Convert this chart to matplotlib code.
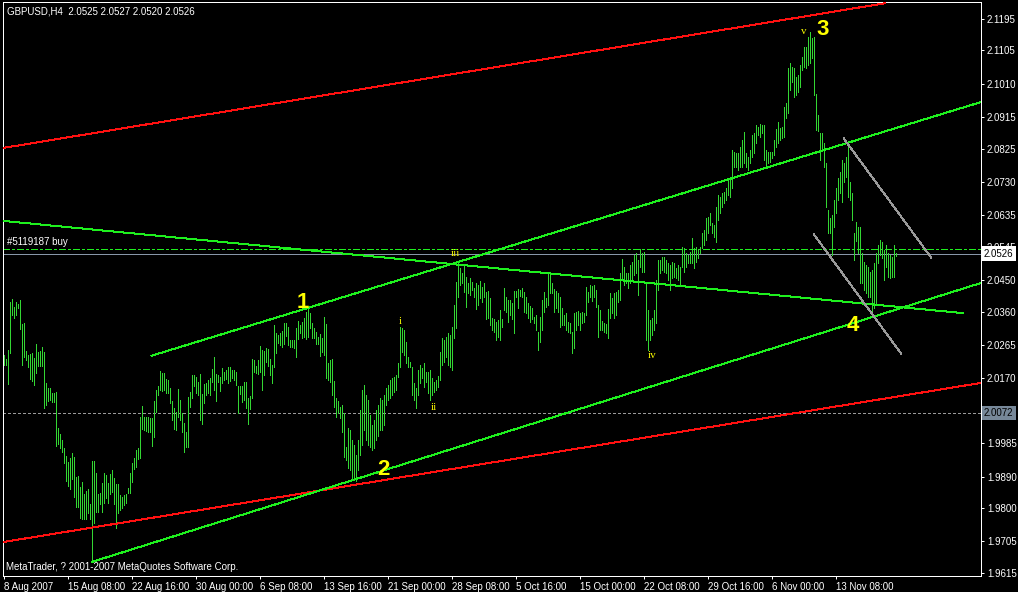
import numpy as np
import matplotlib
matplotlib.use("Agg")
import matplotlib.pyplot as plt
from matplotlib import font_manager
from matplotlib.transforms import blended_transform_factory

# ---------------------------------------------------------------- data
symbol_info = "GBPUSD,H4  2.0525 2.0527 2.0520 2.0526"
order_label = "#5119187 buy"
copyright_text = "MetaTrader, ? 2001-2007 MetaQuotes Software Corp."

# H4 bar highs / lows, one entry per bar starting 8 Aug 2007 00:00
highs = [
    2.0237, 2.0225, 2.0251, 2.0388, 2.0396, 2.0373, 2.0388, 2.0382, 2.0393, 2.0325,
    2.0328, 2.0248, 2.0237, 2.0239, 2.0242, 2.0228, 2.0268, 2.0245, 2.0248, 2.0259,
    2.0245, 2.0157, 2.0142, 2.0142, 2.0128, 2.0128, 2.0131, 2.0028, 2.0011, 1.9994,
    1.9971, 1.9949, 1.9931, 1.9943, 1.9957, 1.9946, 1.9889, 1.9891, 1.9860, 1.9874,
    1.9840, 1.9849, 1.9854, 1.9812, 1.9934, 1.9934, 1.9900, 1.9840, 1.9843, 1.9871,
    1.9900, 1.9894, 1.9871, 1.9897, 1.9909, 1.9886, 1.9869, 1.9869, 1.9837, 1.9832,
    1.9837, 1.9840, 1.9857, 1.9900, 1.9929, 1.9943, 1.9966, 1.9971, 2.0060, 2.0091,
    2.0060, 2.0060, 2.0060, 2.0057, 2.0057, 2.0105, 2.0137, 2.0148, 2.0191, 2.0185,
    2.0185, 2.0168, 2.0165, 2.0142, 2.0105, 2.0085, 2.0074, 2.0140, 2.0108, 2.0071,
    2.0043, 2.0017, 2.0117, 2.0131, 2.0180, 2.0180, 2.0174, 2.0160, 2.0182, 2.0125,
    2.0154, 2.0157, 2.0165, 2.0171, 2.0197, 2.0231, 2.0182, 2.0180, 2.0174, 2.0200,
    2.0188, 2.0194, 2.0202, 2.0202, 2.0194, 2.0194, 2.0188, 2.0148, 2.0148, 2.0148,
    2.0160, 2.0160, 2.0114, 2.0120, 2.0225, 2.0222, 2.0205, 2.0222, 2.0262, 2.0251,
    2.0248, 2.0257, 2.0254, 2.0225, 2.0208, 2.0322, 2.0299, 2.0294, 2.0299, 2.0305,
    2.0328, 2.0328, 2.0316, 2.0279, 2.0279, 2.0279, 2.0314, 2.0334, 2.0322, 2.0331,
    2.0342, 2.0359, 2.0368, 2.0356, 2.0328, 2.0314, 2.0302, 2.0288, 2.0296, 2.0285,
    2.0345, 2.0325, 2.0214, 2.0222, 2.0225, 2.0162, 2.0114, 2.0105, 2.0088, 2.0094,
    2.0071, 1.9974, 2.0028, 2.0023, 1.9994, 1.9980, 1.9951, 1.9994, 2.0080, 2.0137,
    2.0151, 2.0122, 2.0108, 2.0065, 2.0037, 2.0051, 2.0080, 2.0094, 2.0114, 2.0108,
    2.0122, 2.0142, 2.0151, 2.0165, 2.0171, 2.0174, 2.0180, 2.0214, 2.0316, 2.0314,
    2.0308, 2.0274, 2.0231, 2.0217, 2.0202, 2.0157, 2.0142, 2.0194, 2.0208, 2.0200,
    2.0214, 2.0188, 2.0188, 2.0194, 2.0171, 2.0160, 2.0165, 2.0177, 2.0245, 2.0285,
    2.0279, 2.0288, 2.0299, 2.0294, 2.0316, 2.0379, 2.0445, 2.0499, 2.0485, 2.0470,
    2.0493, 2.0459, 2.0442, 2.0456, 2.0445, 2.0428, 2.0442, 2.0436, 2.0448, 2.0430,
    2.0442, 2.0416, 2.0419, 2.0399, 2.0342, 2.0339, 2.0331, 2.0336, 2.0365, 2.0339,
    2.0428, 2.0402, 2.0393, 2.0393, 2.0385, 2.0419, 2.0419, 2.0425, 2.0422, 2.0428,
    2.0416, 2.0402, 2.0385, 2.0376, 2.0371, 2.0345, 2.0351, 2.0302, 2.0345, 2.0393,
    2.0416, 2.0399, 2.0470, 2.0470, 2.0442, 2.0425, 2.0419, 2.0413, 2.0402, 2.0371,
    2.0351, 2.0356, 2.0331, 2.0328, 2.0302, 2.0356, 2.0359, 2.0362, 2.0356, 2.0359,
    2.0356, 2.0430, 2.0416, 2.0436, 2.0433, 2.0436, 2.0422, 2.0379, 2.0365, 2.0334,
    2.0328, 2.0325, 2.0368, 2.0413, 2.0399, 2.0413, 2.0416, 2.0422, 2.0470, 2.0510,
    2.0488, 2.0470, 2.0470, 2.0493, 2.0502, 2.0522, 2.0527, 2.0508, 2.0539, 2.0527,
    2.0530, 2.0442, 2.0365, 2.0336, 2.0342, 2.0365, 2.0450, 2.0508, 2.0508, 2.0516,
    2.0516, 2.0508, 2.0499, 2.0493, 2.0502, 2.0499, 2.0485, 2.0493, 2.0488, 2.0545,
    2.0542, 2.0527, 2.0522, 2.0530, 2.0570, 2.0542, 2.0545, 2.0539, 2.0545, 2.0585,
    2.0593, 2.0627, 2.0630, 2.0642, 2.0613, 2.0607, 2.0659, 2.0693, 2.0687, 2.0699,
    2.0701, 2.0713, 2.0741, 2.0744, 2.0821, 2.0816, 2.0813, 2.0813, 2.0830, 2.0850,
    2.0873, 2.0813, 2.0801, 2.0821, 2.0864, 2.0870, 2.0893, 2.0887, 2.0895, 2.0893,
    2.0893, 2.0821, 2.0816, 2.0816, 2.0816, 2.0850, 2.0881, 2.0901, 2.0884, 2.0887,
    2.0944, 2.0955, 2.1055, 2.1069, 2.1058, 2.1055, 2.1029, 2.1035, 2.1064, 2.1086,
    2.1115, 2.1115, 2.1143, 2.1158, 2.1141, 2.1143, 2.0981, 2.0921, 2.0870, 2.0870,
    2.0841, 2.0784, 2.0650, 2.0627, 2.0636, 2.0679, 2.0713, 2.0741, 2.0759, 2.0793,
    2.0784, 2.0801, 2.0841, 2.0730, 2.0699, 2.0585, 2.0616, 2.0602, 2.0602, 2.0527,
    2.0502, 2.0493, 2.0488, 2.0473, 2.0479, 2.0499, 2.0527, 2.0550, 2.0565, 2.0559,
    2.0536, 2.0550, 2.0527, 2.0522, 2.0516, 2.0550, 2.0527,
]
lows = [
    2.0208, 2.0208, 2.0154, 2.0242, 2.0351, 2.0342, 2.0351, 2.0371, 2.0311, 2.0208,
    2.0231, 2.0222, 2.0202, 2.0168, 2.0162, 2.0151, 2.0185, 2.0205, 2.0205, 2.0205,
    2.0085, 2.0094, 2.0105, 2.0108, 2.0102, 2.0102, 1.9977, 1.9983, 1.9971, 1.9960,
    1.9929, 1.9877, 1.9863, 1.9854, 1.9883, 1.9832, 1.9803, 1.9803, 1.9772, 1.9769,
    1.9769, 1.9769, 1.9786, 1.9769, 1.9646, 1.9757, 1.9789, 1.9789, 1.9812, 1.9789,
    1.9814, 1.9829, 1.9814, 1.9840, 1.9846, 1.9812, 1.9743, 1.9786, 1.9795, 1.9800,
    1.9809, 1.9814, 1.9843, 1.9843, 1.9874, 1.9911, 1.9917, 1.9940, 1.9943, 2.0025,
    2.0023, 2.0020, 2.0017, 2.0017, 1.9977, 2.0003, 2.0074, 2.0122, 2.0137, 2.0134,
    2.0137, 2.0128, 2.0128, 2.0100, 2.0051, 2.0025, 2.0023, 2.0060, 2.0051, 2.0017,
    1.9960, 1.9974, 1.9974, 2.0088, 2.0114, 2.0148, 2.0128, 2.0122, 2.0051, 2.0040,
    2.0100, 2.0122, 2.0128, 2.0122, 2.0160, 2.0137, 2.0105, 2.0160, 2.0134, 2.0157,
    2.0165, 2.0168, 2.0157, 2.0162, 2.0171, 2.0165, 2.0151, 2.0071, 2.0125, 2.0102,
    2.0108, 2.0085, 2.0040, 2.0083, 2.0114, 2.0188, 2.0185, 2.0182, 2.0188, 2.0137,
    2.0180, 2.0217, 2.0205, 2.0180, 2.0157, 2.0202, 2.0242, 2.0271, 2.0265, 2.0259,
    2.0268, 2.0291, 2.0265, 2.0259, 2.0259, 2.0257, 2.0231, 2.0282, 2.0299, 2.0285,
    2.0288, 2.0282, 2.0288, 2.0314, 2.0285, 2.0285, 2.0268, 2.0268, 2.0234, 2.0245,
    2.0237, 2.0171, 2.0165, 2.0160, 2.0122, 2.0088, 2.0060, 2.0071, 2.0057, 2.0017,
    1.9946, 1.9937, 1.9914, 1.9909, 1.9886, 1.9880, 1.9877, 1.9909, 1.9951, 1.9980,
    2.0023, 1.9994, 1.9980, 1.9974, 1.9966, 1.9971, 1.9994, 2.0005, 2.0023, 2.0023,
    2.0037, 2.0094, 2.0108, 2.0114, 2.0122, 2.0131, 2.0137, 2.0174, 2.0202, 2.0245,
    2.0237, 2.0214, 2.0202, 2.0202, 2.0122, 2.0108, 2.0085, 2.0122, 2.0157, 2.0171,
    2.0145, 2.0160, 2.0128, 2.0108, 2.0122, 2.0131, 2.0137, 2.0145, 2.0165, 2.0208,
    2.0217, 2.0231, 2.0208, 2.0202, 2.0194, 2.0285, 2.0314, 2.0402, 2.0436, 2.0442,
    2.0416, 2.0373, 2.0413, 2.0408, 2.0422, 2.0402, 2.0368, 2.0379, 2.0399, 2.0388,
    2.0402, 2.0339, 2.0342, 2.0322, 2.0308, 2.0302, 2.0279, 2.0288, 2.0279, 2.0316,
    2.0365, 2.0359, 2.0331, 2.0351, 2.0339, 2.0299, 2.0402, 2.0371, 2.0405, 2.0402,
    2.0359, 2.0356, 2.0342, 2.0331, 2.0339, 2.0328, 2.0308, 2.0251, 2.0274, 2.0308,
    2.0359, 2.0373, 2.0379, 2.0413, 2.0413, 2.0359, 2.0371, 2.0359, 2.0316, 2.0322,
    2.0322, 2.0308, 2.0302, 2.0299, 2.0242, 2.0257, 2.0308, 2.0322, 2.0308, 2.0328,
    2.0331, 2.0351, 2.0388, 2.0402, 2.0391, 2.0402, 2.0373, 2.0288, 2.0308, 2.0308,
    2.0302, 2.0299, 2.0285, 2.0342, 2.0356, 2.0342, 2.0351, 2.0388, 2.0393, 2.0450,
    2.0436, 2.0442, 2.0428, 2.0442, 2.0450, 2.0465, 2.0470, 2.0408, 2.0488, 2.0473,
    2.0473, 2.0279, 2.0251, 2.0279, 2.0294, 2.0308, 2.0328, 2.0422, 2.0470, 2.0479,
    2.0473, 2.0470, 2.0450, 2.0422, 2.0456, 2.0459, 2.0456, 2.0450, 2.0436, 2.0488,
    2.0473, 2.0488, 2.0499, 2.0499, 2.0499, 2.0485, 2.0502, 2.0513, 2.0527, 2.0542,
    2.0550, 2.0565, 2.0585, 2.0607, 2.0585, 2.0573, 2.0559, 2.0622, 2.0642, 2.0659,
    2.0670, 2.0679, 2.0693, 2.0687, 2.0713, 2.0773, 2.0773, 2.0764, 2.0773, 2.0773,
    2.0784, 2.0773, 2.0764, 2.0784, 2.0801, 2.0813, 2.0841, 2.0864, 2.0858, 2.0870,
    2.0793, 2.0779, 2.0784, 2.0787, 2.0798, 2.0807, 2.0830, 2.0841, 2.0850, 2.0855,
    2.0858, 2.0912, 2.0927, 2.0992, 2.1015, 2.0972, 2.0978, 2.0987, 2.1001, 2.1049,
    2.1058, 2.1055, 2.1064, 2.1069, 2.1084, 2.0978, 2.0878, 2.0875, 2.0793, 2.0821,
    2.0773, 2.0659, 2.0585, 2.0585, 2.0522, 2.0602, 2.0642, 2.0679, 2.0699, 2.0673,
    2.0730, 2.0744, 2.0687, 2.0679, 2.0622, 2.0507, 2.0562, 2.0527, 2.0442, 2.0442,
    2.0422, 2.0413, 2.0402, 2.0402, 2.0351, 2.0371, 2.0385, 2.0499, 2.0522, 2.0513,
    2.0450, 2.0488, 2.0459, 2.0456, 2.0459, 2.0459, 2.0520,
]

# time axis labels and the bar each one belongs to
date_labels = ["8 Aug 2007", "15 Aug 08:00", "22 Aug 16:00", "30 Aug 00:00",
               "6 Sep 08:00", "13 Sep 16:00", "21 Sep 00:00", "28 Sep 08:00",
               "5 Oct 16:00", "15 Oct 00:00", "22 Oct 08:00", "29 Oct 16:00",
               "6 Nov 00:00", "13 Nov 08:00"]
date_label_bars = [0, 32, 64, 96, 128, 160, 192, 224, 256, 288, 320, 352, 384, 416]

price_ticks = [1.9615, 1.9705, 1.9800, 1.9890, 1.9985, 2.0170, 2.0265, 2.0360,
               2.0450, 2.0545, 2.0635, 2.0730, 2.0825, 2.0915, 2.1010, 2.1105, 2.1195]

bid_price = 2.0526
order_price = 2.0540
level_price = 2.0072

# trend lines: (bar0, price0, bar1, price1)
red_upper = (-0.25, 2.0827, 441.0, 2.1240)
red_lower = (-0.25, 1.9703, 488.75, 2.0157)
green_upper = (73.75, 2.0234, 488.75, 2.0958)
green_lower = (44.0, 1.9646, 488.75, 2.0442)
green_falling = (-0.25, 2.0619, 479.75, 2.0356)
grey_upper = (420.0, 2.0855, 464.0, 2.0513)
grey_lower = (405.0, 2.0582, 449.0, 2.0239)

# wave counts: (text, bar, price)
major_waves = [("1", 149.75, 2.0385), ("2", 189.75, 1.9911),
               ("3", 409.75, 2.1166), ("4", 424.75, 2.0322)]
minor_waves = [("i", 198.25, 2.0331), ("ii", 215.25, 2.0088),
               ("iii", 225.75, 2.0527), ("iv", 324.25, 2.0234), ("v", 400.25, 2.1158)]

# ---------------------------------------------------------------- style
W, H, DPI = 1018, 592, 100
PX = 72.0 / DPI  # one pixel in points

names = {f.name for f in font_manager.fontManager.ttflist}
ui_font = "Liberation Sans" if "Liberation Sans" in names else "DejaVu Sans"
serif_font = "Liberation Serif" if "Liberation Serif" in names else "DejaVu Serif"

BG = "#000000"
FG = "#ffffff"
BAR = "#33d633"
LIME = "#1ef01e"
RED = "#ff1010"
SLATE = "#8796a8"
GREY = "#9a9a9a"
YELLOW = "#ffff00"
UI_SIZE = 7.0

fig = plt.figure(figsize=(W / DPI, H / DPI), dpi=DPI, facecolor=BG)
left, right, top, bottom = 2.5, 981.0, 2.0, 575.5
ax = fig.add_axes([left / W, 1 - bottom / H, (right - left) / W, (bottom - top) / H])
ax.set_facecolor(BG)

x = np.arange(len(highs))
ax.vlines(x, lows, highs, colors=BAR, linewidth=PX, antialiased=False, zorder=3)

def trend(line, color, **kw):
    ax.plot([line[0], line[2]], [line[1], line[3]], color=color, linewidth=PX,
            antialiased=False, solid_capstyle="butt", zorder=4, **kw)

trend(red_upper, RED)
trend(red_lower, RED)
trend(green_upper, LIME)
trend(green_lower, LIME)
trend(green_falling, LIME)
trend(grey_upper, GREY)
trend(grey_lower, GREY)

ax.axhline(order_price, color=LIME, linewidth=PX, antialiased=False,
           dashes=(9 * PX, 4 * PX, 3 * PX, 4 * PX), zorder=2)
ax.axhline(bid_price, color=SLATE, linewidth=PX, antialiased=False, zorder=2)
ax.axhline(level_price, color=GREY, linewidth=PX, antialiased=False,
           dashes=(4 * PX, 3 * PX), zorder=2)

ax.set_xlim(-0.5, 488.75)
ax.set_ylim(1.96077, 2.12433)

for s in ax.spines.values():
    s.set_color(FG)
    s.set_linewidth(PX)

ax.yaxis.tick_right()
ax.set_yticks(price_ticks)
ax.set_yticklabels([f"{p:.4f}" for p in price_ticks])
ax.set_xticks(date_label_bars)
ax.set_xticklabels(date_labels)
ax.tick_params(axis="both", colors=FG, length=3 * PX, width=PX, direction="out",
               labelsize=UI_SIZE)
ax.tick_params(axis="y", pad=3 * PX)
ax.tick_params(axis="x", pad=4 * PX)
for lab in ax.get_xticklabels() + ax.get_yticklabels():
    lab.set_fontfamily(ui_font)
    lab.set_color(FG)
for lab in ax.get_xticklabels():
    lab.set_horizontalalignment("left")

# price boxes on the scale
ytrans = blended_transform_factory(ax.transAxes, ax.transData)
ax.annotate(f"{bid_price:.4f}", xy=(1.0, bid_price), xycoords=ytrans,
            xytext=(3 * PX, 0), textcoords="offset points", ha="left", va="center",
            fontsize=UI_SIZE, family=ui_font, color="#000000", annotation_clip=False,
            bbox=dict(boxstyle="square,pad=0.22", fc="#ffffff", ec="none"), zorder=10)
ax.annotate(f"{level_price:.4f}", xy=(1.0, level_price), xycoords=ytrans,
            xytext=(3 * PX, 0), textcoords="offset points", ha="left", va="center",
            fontsize=UI_SIZE, family=ui_font, color="#000000", annotation_clip=False,
            bbox=dict(boxstyle="square,pad=0.22", fc="#778899", ec="none"), zorder=10)

# wave labels
for txt, bx, py in major_waves:
    ax.text(bx, py, txt, color=YELLOW, fontsize=16, fontweight="bold",
            family=ui_font, ha="center", va="center", zorder=6)
for txt, bx, py in minor_waves:
    ax.text(bx, py, txt, color=YELLOW, fontsize=8, family=serif_font,
            ha="center", va="center", zorder=6)

ax.annotate(order_label, xy=(0, order_price), xycoords=ytrans,
            xytext=(5 * PX, 2 * PX), textcoords="offset points", ha="left",
            va="bottom", fontsize=UI_SIZE, family=ui_font, color=FG, zorder=6)

fig.text(7 / W, 1 - 11 / H, symbol_info, color=FG, fontsize=UI_SIZE, family=ui_font,
         ha="left", va="center")
fig.text(6 / W, 1 - 567 / H, copyright_text, color=FG, fontsize=UI_SIZE,
         family=ui_font, ha="left", va="center")

fig.savefig("out.png", dpi=DPI, facecolor=BG)
